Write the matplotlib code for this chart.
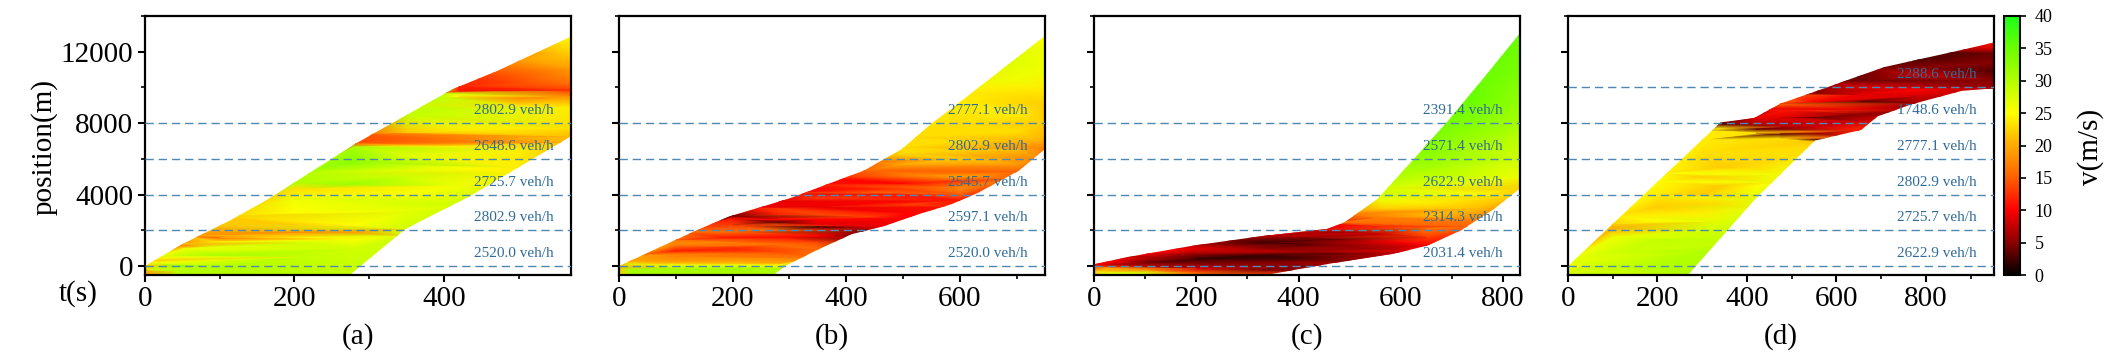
import matplotlib
matplotlib.use('Agg')
import matplotlib.pyplot as plt
import matplotlib.tri as mtri
from matplotlib.colors import LinearSegmentedColormap, Normalize
from matplotlib.cm import ScalarMappable
from matplotlib.patches import Polygon
from matplotlib.ticker import MultipleLocator
import numpy as np

plt.rcParams['font.family'] = ['Liberation Serif', 'DejaVu Serif']

# segment boundaries (m) and measured flows per segment (veh/h)
seg_bounds = [0, 2000, 4000, 6000, 8000, 10000]
a_flow = ['2520.0', '2802.9', '2725.7', '2648.6', '2802.9']
b_flow = ['2520.0', '2597.1', '2545.7', '2802.9', '2777.1']
c_flow = ['2031.4', '2314.3', '2622.9', '2571.4', '2391.4']
d_flow = ['2622.9', '2725.7', '2802.9', '2777.1', '1748.6', '2288.6']

# ---------------- panel (a) ----------------
a_tmax = 570
a_xticks = [0, 200, 400]
a_top_t = [0, 50, 115, 163, 282, 412, 470, 570]
a_top_x = [0, 1230, 2580, 3700, 6860, 9910, 10900, 12850]
a_bot_t = [0, 274, 348, 435, 570]
a_bot_x = [-500, -500, 2065, 3925, 7270]
a_col_t = [0, 8, 50, 100, 200, 280, 350, 400, 420, 500, 570]
a_col_x = [
    [-700, -250, 0, 300],
    [-700, -200, 200, 500],
    [-700, -300, 0, 600, 950, 1150, 1230, 1700],
    [-700, 0, 600, 1100, 1350, 1600, 1900, 2300, 2800],
    [-700, 500, 1300, 1600, 1900, 2300, 3000, 3800, 4300, 4690, 5200],
    [-700, 1000, 1500, 1900, 2300, 3000, 3800, 4600, 5800, 6650, 6860, 7400],
    [1700, 2100, 3000, 4000, 5000, 6200, 6700, 7100, 7500, 8455, 9000],
    [8800, 9400, 9700],
    [3300, 3600, 4500, 5500, 6700, 7150, 7600, 8500, 9500, 9800, 10050, 10600],
    [5200, 5535, 6500, 7200, 7700, 9000, 9400, 9850, 10300, 11000, 11485, 12000],
    [6900, 7270, 7700, 8900, 9500, 9850, 10200, 11000, 11800, 12850, 13400],
]
a_col_v = [
    [19, 20, 22, 22],
    [27, 28, 25, 25],
    [29, 30, 33, 29, 26, 17, 19, 19],
    [29, 30, 31, 27, 24, 15, 19, 22, 22],
    [30, 29, 28, 24, 18, 22, 25, 26, 23, 30, 30],
    [29, 28, 25, 19, 25, 25, 27, 32, 33, 31, 14, 14],
    [28, 28, 27, 25, 28, 27, 24, 15, 22, 29, 29],
    [29, 29, 29],
    [28, 28, 26, 25, 24, 17, 24, 28, 25, 11, 12, 12],
    [24, 24, 24, 20, 24, 23, 18, 11, 14, 16, 19, 19],
    [21, 21, 23, 24, 18, 13, 16, 19, 22, 25, 25],
]

# ---------------- panel (b) ----------------
b_tmax = 750
b_xticks = [0, 200, 400, 600]
b_top_t = [0, 135, 194, 258, 305, 375, 431, 498, 551, 592, 750]
b_top_x = [0, 1980, 2780, 3380, 3840, 4680, 5340, 6550, 8000, 8980, 12890]
b_bot_t = [0, 272, 293, 352, 410, 434, 469, 528, 586, 633, 704, 750]
b_bot_x = [-500, -500, 20, 950, 1790, 1980, 2260, 2910, 3470, 4120, 5340, 6550]
b_col_t = [0, 20, 100, 200, 280, 350, 430, 500, 600, 700, 750]
b_col_x = [
    [-700, -200, 0, 300],
    [-700, -200, 50, 300, 600],
    [-700, -150, 50, 150, 300, 550, 850, 1100, 1300, 1470, 1900],
    [-700, -150, 50, 150, 350, 700, 1000, 1300, 1600, 1900, 2300, 2650, 2800, 3300],
    [-700, -150, 50, 150, 400, 800, 1200, 1600, 2000, 2300, 2460, 2620, 2900, 3200, 3650, 4100],
    [500, 920, 1300, 1700, 2020, 2180, 2350, 2600, 2900, 3300, 3800, 4200, 4560, 5000],
    [1500, 1950, 2100, 2250, 2750, 3450, 4100, 4650, 5340, 5800],
    [2200, 2690, 2950, 3450, 4000, 4300, 4650, 5150, 5700, 6300, 6600, 7200],
    [3300, 3670, 4000, 4400, 5000, 6000, 7000, 8000, 9200, 9800],
    [4900, 5270, 5700, 6500, 7500, 8500, 9500, 10500, 11500, 12200],
    [6000, 6550, 7000, 8000, 9000, 10000, 11000, 12000, 12890, 13500],
]
b_col_v = [
    [23, 22, 20, 20],
    [30, 31, 27, 20, 20],
    [31, 31, 26, 21, 19, 17, 11, 16, 18, 16, 16],
    [30, 31, 26, 21, 19, 16, 12, 17, 11, 16, 13, 11, 4, 9],
    [30, 30, 25, 20, 18, 14, 16, 11, 16, 14, 3, 10, 12, 13, 9, 9],
    [16, 16, 14, 10, 12, 2, 9, 10, 14, 9, 13, 10, 11, 11],
    [4, 4, 7, 9, 14, 10, 15, 10, 15, 15],
    [10, 10, 10, 14, 11, 13, 10, 17, 20, 23, 23, 23],
    [11, 11, 15, 18, 20, 22, 23, 23, 24, 24],
    [15, 15, 19, 21, 23, 24, 23, 26, 27, 27],
    [17, 17, 20, 22, 22, 24, 26, 26, 25, 25],
]

# ---------------- panel (c) ----------------
c_tmax = 833
c_xticks = [0, 200, 400, 600, 800]
c_top_t = [0, 65, 195, 326, 456, 490, 554, 619, 689, 754, 833]
c_top_x = [100, 500, 1150, 1670, 2080, 2450, 3750, 5790, 8020, 10250, 13040]
c_bot_t = [0, 335, 460, 586, 652, 717, 782, 833]
c_bot_x = [-500, -500, 130, 690, 1150, 1990, 3190, 4350]
c_col_t = [0, 30, 100, 200, 330, 420, 490, 560, 650, 750, 833]
c_col_x = [
    [-700, -300, 0, 100, 400],
    [-700, -400, -100, 50, 250, 600],
    [-700, -400, -200, 0, 200, 400, 680, 1000],
    [-700, -400, -150, 100, 400, 700, 950, 1170, 1600],
    [-700, -500, -200, 200, 600, 1000, 1300, 1680, 2100],
    [-700, -300, 0, 400, 800, 1200, 1600, 1980, 2400],
    [-300, 0, 300, 700, 1100, 1500, 1900, 2200, 2450, 2900],
    [200, 600, 1000, 1400, 1800, 2200, 2700, 3200, 3700, 3950, 4400],
    [800, 1150, 1600, 2100, 2800, 3500, 4500, 5500, 6300, 6800],
    [2200, 2600, 3200, 4000, 5000, 6500, 8000, 9500, 10100, 10700],
    [3900, 4350, 5000, 6000, 7500, 9000, 11000, 13040, 13600],
]
c_col_v = [
    [22, 22, 12, 10, 10],
    [24, 27, 20, 8, 10, 10],
    [28, 28, 18, 6, 4, 7, 10, 10],
    [16, 16, 8, 5, 2, 6, 9, 7, 7],
    [13, 13, 4, 5, 2, 5, 2, 7, 7],
    [6, 6, 5, 3, 6, 3, 5, 8, 8],
    [7, 7, 5, 4, 6, 4, 6, 10, 16, 16],
    [7, 7, 6, 9, 8, 12, 17, 22, 26, 28, 28],
    [10, 10, 13, 17, 21, 24, 27, 31, 33, 33],
    [15, 17, 21, 25, 28, 30, 33, 35, 35, 35],
    [22, 22, 26, 28, 30, 32, 34, 35, 35],
]

# ---------------- panel (d) ----------------
d_tmax = 952
d_xticks = [0, 200, 400, 600, 800]
d_top_t = [0, 341, 416, 475, 557, 632, 707, 775, 880, 952]
d_top_x = [0, 8040, 8290, 9100, 9810, 10480, 11140, 11520, 12100, 12520]
d_bot_t = [0, 268, 418, 552, 655, 692, 767, 880, 952]
d_bot_x = [-500, -500, 3750, 7030, 7620, 8380, 9050, 9810, 9950]
d_col_t = [0, 100, 200, 300, 341, 420, 475, 555, 650, 780, 952]
d_col_x = [
    [-700, -200, 0, 300],
    [-700, 0, 800, 1600, 2150, 2360, 2800],
    [-700, 0, 1500, 2500, 3300, 4000, 4716, 5200],
    [-700, 800, 2000, 3000, 4000, 5000, 6200, 7080, 7600],
    [1200, 1600, 2500, 3500, 4500, 5500, 6500, 7700, 7950, 8300],
    [3300, 3750, 4500, 5500, 6500, 7450, 7680, 7950, 8300, 8800],
    [4700, 5100, 6000, 7150, 7400, 7800, 8300, 8700, 9100, 9600],
    [6600, 6950, 7100, 7400, 7800, 8300, 8700, 9200, 9650, 9810, 10300],
    [7200, 7600, 8100, 8500, 8800, 9200, 9600, 10000, 10400, 10640, 11100],
    [8700, 9100, 9500, 9900, 10300, 10700, 11100, 11550, 12000],
    [9500, 9950, 10400, 10900, 11400, 11900, 12200, 12520, 13000],
]
d_col_v = [
    [27, 27, 26, 26],
    [30, 29, 28, 26, 20, 22, 24],
    [30, 30, 29, 25, 22, 24, 25, 25],
    [30, 30, 28, 24, 22, 22, 23, 24, 24],
    [29, 29, 27, 23, 22, 22, 23, 24, 3, 3],
    [27, 27, 25, 23, 23, 23, 3, 7, 9, 9],
    [26, 26, 23, 23, 3, 7, 9, 11, 16, 16],
    [23, 22, 3, 5, 8, 4, 12, 10, 5, 5, 5],
    [12, 12, 8, 5, 9, 3, 9, 9, 4, 4, 4],
    [6, 6, 8, 10, 5, 8, 5, 3, 3],
    [6, 6, 5, 3, 5, 4, 9, 11, 11],
]

speed_cmap = LinearSegmentedColormap.from_list('speed', [
    (0.0, '#000000'), (0.125, '#8a0000'), (0.25, '#ff0000'),
    (0.375, '#ff6000'), (0.5, '#ffaa00'), (0.625, '#ffff00'),
    (0.75, '#b4ff00'), (0.875, '#6cff00'), (1.0, '#1aff1a')])

panels = [
    ('(a)', a_tmax, a_xticks, a_top_t, a_top_x, a_bot_t, a_bot_x, a_col_t, a_col_x, a_col_v, a_flow),
    ('(b)', b_tmax, b_xticks, b_top_t, b_top_x, b_bot_t, b_bot_x, b_col_t, b_col_x, b_col_v, b_flow),
    ('(c)', c_tmax, c_xticks, c_top_t, c_top_x, c_bot_t, c_bot_x, c_col_t, c_col_x, c_col_v, c_flow),
    ('(d)', d_tmax, d_xticks, d_top_t, d_top_x, d_bot_t, d_bot_x, d_col_t, d_col_x, d_col_v, d_flow),
]

W, H = 2126, 354
fig = plt.figure(figsize=(W / 100, H / 100), dpi=100)
lefts = [145, 619, 1094, 1568]
ax_w, ax_b, ax_h = 426, 79, 259

for i, (tag, tmax, xticks, top_t, top_x, bot_t, bot_x, col_t, col_x, col_v, flow) in enumerate(panels):
    ax = fig.add_axes([lefts[i] / W, ax_b / H, ax_w / W, ax_h / H])

    t = np.concatenate([np.full(len(xs), tc, dtype=float) for tc, xs in zip(col_t, col_x)])
    x = np.concatenate([np.asarray(xs, dtype=float) for xs in col_x])
    v = np.concatenate([np.asarray(vs, dtype=float) for vs in col_v])
    tri = mtri.Triangulation(t, x)
    tpc = ax.tripcolor(tri, v, shading='gouraud', cmap=speed_cmap, vmin=0, vmax=40)

    outline = np.column_stack([np.r_[top_t, bot_t[::-1]], np.r_[top_x, bot_x[::-1]]])
    band = Polygon(outline, closed=True, facecolor='none', edgecolor='none',
                   transform=ax.transData)
    ax.add_patch(band)
    tpc.set_clip_path(band)

    for yb, q in zip(seg_bounds, flow):
        ax.axhline(yb, color='#4f89b3', lw=1.0, ls=(0, (6, 3.5)), zorder=3)
        ax.text(0.96, yb + 700, q + ' veh/h', transform=ax.get_yaxis_transform(),
                ha='right', va='center', fontsize=11, color='#2f6b9a', zorder=4)

    ax.set_xlim(0, tmax)
    ax.set_ylim(-500, 14000)
    ax.set_xticks(xticks)
    ax.xaxis.set_minor_locator(MultipleLocator(100))
    ax.set_yticks([0, 4000, 8000, 12000])
    ax.yaxis.set_minor_locator(MultipleLocator(2000))
    ax.tick_params(which='major', direction='out', length=5, width=1.5, labelsize=21)
    ax.tick_params(which='minor', direction='out', length=3, width=1.2)
    ax.tick_params(axis='x', pad=3)
    ax.tick_params(axis='y', pad=3.5)
    if i > 0:
        ax.tick_params(axis='y', labelleft=False)
    for s in ax.spines.values():
        s.set_linewidth(1.6)

    fig.text((lefts[i] + ax_w / 2) / W, 1 - 337 / H, tag, ha='center', va='center', fontsize=21)

fig.text(44 / W, 1 - 147 / H, 'position(m)', rotation=90, ha='center', va='center', fontsize=21)
fig.text(78 / W, 1 - 294 / H, 't(s)', ha='center', va='center', fontsize=21)

cax = fig.add_axes([2004 / W, ax_b / H, 16 / W, ax_h / H])
cb = fig.colorbar(ScalarMappable(norm=Normalize(0, 40), cmap=speed_cmap), cax=cax,
                  ticks=list(range(0, 41, 5)))
cb.ax.tick_params(labelsize=13, length=4.5, width=1.2, pad=6)
cb.outline.set_linewidth(1.5)
fig.text(2091 / W, 1 - 147 / H, 'v(m/s)', rotation=90, ha='center', va='center', fontsize=21)

fig.savefig('out.png', dpi=100)
